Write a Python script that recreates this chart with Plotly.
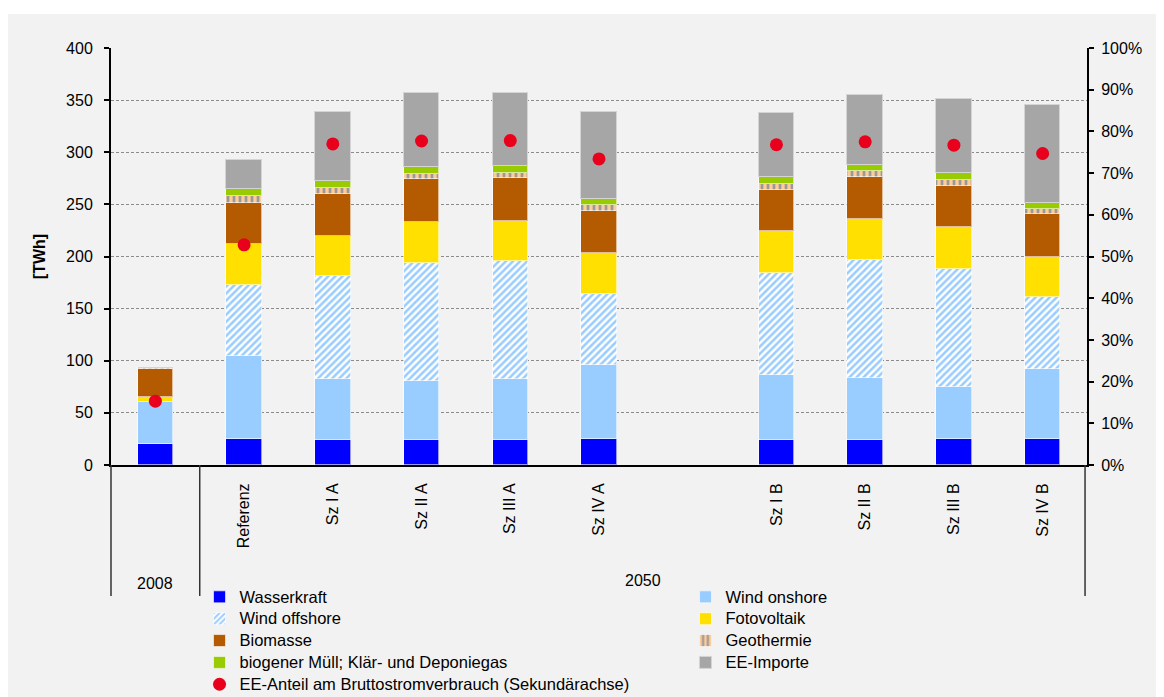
import plotly.graph_objects as go

# Kategorien (Index 6 bleibt leer als Abstand zwischen A- und B-Szenarien)
kategorien = ["", "Referenz", "Sz I A", "Sz II A", "Sz III A", "Sz IV A",
              "Sz I B", "Sz II B", "Sz III B", "Sz IV B"]
x_pos = [0, 1, 2, 3, 4, 5, 7, 8, 9, 10]

# Erzeugung in TWh
wasserkraft = [20, 25, 24, 24, 24, 25, 24, 24, 25, 25]
wind_onshore = [40, 80, 58.5, 57, 58.5, 71, 62.5, 59.7, 50, 67]
wind_offshore = [0, 67.5, 98.5, 112.5, 113, 68.5, 98, 113, 113.3, 69]
fotovoltaik = [5, 39.5, 38.4, 40, 38.8, 39, 40, 39, 40, 38.5]
biomasse = [27, 39.6, 40.6, 40.5, 41.3, 40.5, 39.6, 41, 39.7, 41]
geothermie = [1, 6.7, 6, 5.4, 4.8, 5.4, 5, 5, 5, 5]
biogas = [0.5, 6.2, 6, 6, 6, 6, 7.5, 6, 7.4, 6]
ee_importe = [0, 28.5, 66.6, 71, 70, 83.6, 61, 67.3, 71, 93.8]

# EE-Anteil am Bruttostromverbrauch (Sekundärachse)
ee_anteil = [0.153, 0.528, 0.77, 0.777, 0.778, 0.734, 0.768, 0.775, 0.767, 0.747]

FONT = "Liberation Sans, Arial, sans-serif"

fig = go.Figure()


def leg(text):
    # etwas größere Schrift im Legendentext, Zeilenabstand bleibt kompakt
    return f'<span style="font-size:16.5px">{text}</span>'


def add_bar(name, werte, color, legend, pattern=None, line_color="rgba(255,255,255,0.6)"):
    marker = dict(color=color, line=dict(color=line_color, width=1))
    if pattern:
        marker["pattern"] = pattern
    fig.add_trace(go.Bar(
        name=leg(name), x=x_pos, y=werte, width=0.4, marker=marker,
        legend=legend, legendgroup=name,
    ))


add_bar("Wasserkraft", wasserkraft, "#0000ff", "legend")
add_bar("Wind onshore", wind_onshore, "#99ccff", "legend2")
add_bar("Wind offshore", wind_offshore, "#ffffff", "legend",
        pattern=dict(shape="/", fgcolor="#99ccff", bgcolor="#ffffff",
                     size=5, solidity=0.5, fillmode="replace"))
add_bar("Fotovoltaik", fotovoltaik, "#ffe000", "legend2")
add_bar("Biomasse", biomasse, "#b45a00", "legend")
add_bar("Geothermie", geothermie, "#ffcc99", "legend2",
        pattern=dict(shape="|", fgcolor="#999999", bgcolor="#ffcc99",
                     size=6, solidity=0.45, fillmode="replace"))
add_bar("biogener Müll; Klär- und Deponiegas", biogas, "#99cc00", "legend")
add_bar("EE-Importe", ee_importe, "#a6a6a6", "legend2", line_color="#d4d4d4")

fig.add_trace(go.Scatter(
    name=leg("EE-Anteil am Bruttostromverbrauch (Sekundärachse)"),
    x=x_pos, y=ee_anteil, yaxis="y2", mode="markers",
    marker=dict(color="#e8001c", size=13),
    legend="legend", legendgroup="anteil",
))

legend_style = dict(
    orientation="v", yanchor="top", xanchor="left",
    bgcolor="rgba(0,0,0,0)", font=dict(family=FONT, size=14.5, color="#000"),
    itemwidth=30, tracegroupgap=0, traceorder="normal",
)

fig.update_layout(
    width=1156, height=689,
    margin=dict(l=103, r=77, t=40, b=232, autoexpand=False),
    paper_bgcolor="#f2f2f2", plot_bgcolor="#f2f2f2",
    font=dict(family=FONT, size=16, color="#000"),
    barmode="stack", bargap=0,
    showlegend=True,
    legend=dict(x=0.0907, y=-0.278, **legend_style),
    legend2=dict(x=0.5886, y=-0.278, **legend_style),
    xaxis=dict(
        range=[-0.5, 10.5], tickmode="array", tickvals=x_pos, ticktext=kategorien,
        tickangle=-90, ticks="", ticklabelstandoff=10, showgrid=False,
        showline=True, linecolor="#000", linewidth=2, zeroline=False,
        tickfont=dict(size=16),
    ),
    yaxis=dict(
        range=[0, 400], dtick=50, ticks="outside", ticklen=5, tickwidth=2,
        tickcolor="#000", showline=True, linecolor="#000", linewidth=2,
        showgrid=True, gridcolor="#8c8c8c", griddash="3px,2px", gridwidth=1,
        zeroline=False, ticklabelstandoff=8,
        title=dict(text="<b>[TWh]</b>", font=dict(size=16), standoff=16),
    ),
    yaxis2=dict(
        range=[0, 1], dtick=0.1, tickformat=".0%", overlaying="y", side="right",
        ticks="outside", ticklen=5, tickwidth=2, tickcolor="#000",
        showline=True, linecolor="#000", linewidth=2, showgrid=False,
        zeroline=False, ticklabelstandoff=4,
    ),
)

# weißer Rand oben
fig.add_shape(type="rect", xref="paper", yref="paper", x0=-0.2, x1=1.2,
              y0=1.0815, y1=1.3, fillcolor="white", line_width=0, layer="below")

# Trennlinien der Kategorieebene
sep = dict(type="line", yref="paper", y0=0, y1=-0.314,
           line=dict(color="#333", width=1.5))
fig.add_shape(xref="paper", x0=0, x1=0, **sep)
fig.add_shape(xref="x", x0=0.5, x1=0.5, **sep)
fig.add_shape(xref="paper", x0=0.998, x1=0.998, **sep)

fig.add_annotation(x=0, y=-0.283, xref="x", yref="paper", yanchor="middle",
                   text="2008", showarrow=False, font=dict(size=16))
fig.add_annotation(x=5.5, y=-0.276, xref="x", yref="paper", yanchor="middle",
                   text="2050", showarrow=False, font=dict(size=16))

fig.write_html("out.html")
